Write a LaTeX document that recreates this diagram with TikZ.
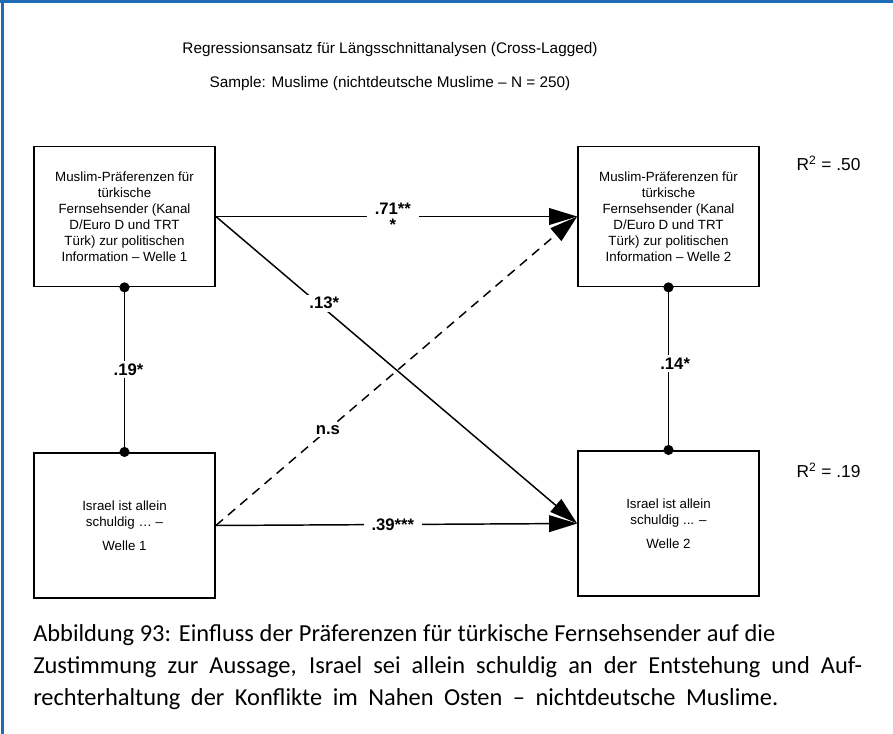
\documentclass[tikz,border=0pt]{standalone}
\usepackage{fontspec}
\setmainfont{Liberation Sans}
\newfontfamily\capfont[Ligatures=TeX]{Carlito}
\usetikzlibrary{arrows.meta}
\definecolor{frameblue}{HTML}{1F6CB4}

\begin{document}
\begin{tikzpicture}[
  x=0.75pt, y=-0.75pt,
  font=\fontsize{10}{12}\selectfont,
  >={Triangle[length=21pt,width=12.5pt]},
  var/.style={draw=black, line width=1.3pt, minimum width=135.75pt,
    minimum height=105pt, align=center, inner sep=0pt},
  effect/.style={->, line width=1.1pt},
  nonsig/.style={effect, dash pattern=on 7pt off 5pt},
  corr/.style={{Circle[length=7.5pt]}-{Circle[length=7.5pt]}, line width=1.1pt,
    shorten <=-3.75pt, shorten >=-3.75pt},
  coef/.style={font=\bfseries\fontsize{12.5}{12}\selectfont, fill=white,
    inner xsep=6pt, inner ysep=2pt},
  rsq/.style={font=\fontsize{13}{15}\selectfont, anchor=west},
  heading/.style={font=\fontsize{11.5}{14}\selectfont}
]
\useasboundingbox (0,0) rectangle (893,734);
% frame of the figure box
\draw[frameblue, line width=2.4pt] (0,1.6) -- (893,1.6);
\draw[frameblue, line width=2pt] (2.5,0) -- (2.5,734);

% heading
\node[heading] (title) at (390,50) {Regressionsansatz für Längsschnittanalysen (Cross-Lagged)};
\node[heading] (sample) at (390,84) {Sample: Muslime (nichtdeutsche Muslime -- N = 250)};

% the four variables
\node[var] (pref1) at (124.5,216.5)
  {Muslim-Präferenzen für\\türkische\\Fernsehsender (Kanal\\D/Euro D und TRT\\Türk) zur politischen\\Information -- Welle 1};
\node[var] (pref2) at (668.5,216.5)
  {Muslim-Präferenzen für\\türkische\\Fernsehsender (Kanal\\D/Euro D und TRT\\Türk) zur politischen\\Information -- Welle 2};
\node[var, minimum height=109pt] (isr1) at (124.5,525.5)
  {Israel ist allein\\schuldig … --\\[6pt]Welle 1};
\node[var, minimum height=109pt] (isr2) at (668.5,523.5)
  {Israel ist allein\\schuldig ... --\\[6pt]Welle 2};

\node[rsq] (r2a) at (792,163) {R\textsuperscript{2} = .50};
\node[rsq] (r2b) at (792,470) {R\textsuperscript{2} = .19};

% stabilities and cross-lagged paths
\draw[effect] (pref1.east) -- node[coef, pos=0.49, align=center] {.71**\\*} (pref2.west);
\draw[effect] (isr1.east) -- node[coef, pos=0.49] {.39***} (isr2.west);
\draw[effect] (pref1.east) -- node[coef, pos=0.3, inner xsep=3pt, yshift=4pt] {.13*} (isr2.west);
\draw[nonsig] (isr1.east) -- node[coef, pos=0.31, inner xsep=3pt] {n.s} (pref2.west);

% correlations within each wave
\draw[corr] (pref1.south) -- node[coef, pos=0.5, xshift=3pt, inner xsep=1pt] {.19*} (isr1.north);
\draw[corr] (pref2.south) -- node[coef, pos=0.47, xshift=5pt, inner xsep=1pt] {.14*} (isr2.north);

% caption
\node[anchor=north west, align=left, font=\capfont\fontsize{18.3}{24}\selectfont, inner sep=0pt] (caption) at (33,624)
  {\makebox[556.5pt][s]{Abbildung 93: Einfluss der Präferenzen für türkische Fernsehsender auf die}\\
   \makebox[621.75pt][s]{Zustimmung zur Aussage, Israel sei allein schuldig an der Entstehung und Auf-}\\
   \makebox[558.75pt][s]{rechterhaltung der Konflikte im Nahen Osten – nichtdeutsche Muslime.}};
\end{tikzpicture}
\end{document}
